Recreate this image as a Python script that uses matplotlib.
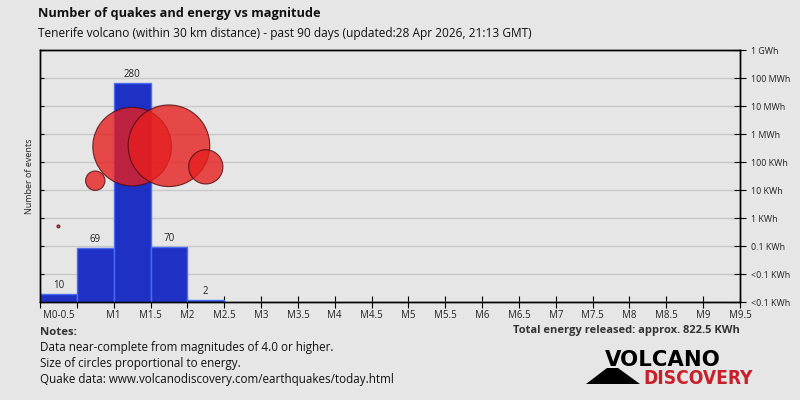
import numpy as np
import matplotlib.pyplot as plt
from matplotlib.patches import Polygon

# datos del grafico
bin_left = [0.0, 0.5, 1.0, 1.5, 2.0]
counts = [10, 69, 280, 70, 2]
energy_kwh = [0.5, 21.5, 353.0, 380.5, 67.0]
energy_ticks = [1e-3, 1e-2, 1e-1, 1, 10, 100, 1e3, 1e4, 1e5, 1e6]
energy_labels = ['<0.1 KWh', '<0.1 KWh', '0.1 KWh', '1 KWh', '10 KWh',
                 '100 KWh', '1 MWh', '10 MWh', '100 MWh', '1 GWh']
mag_ticks = np.arange(0, 9.51, 0.5)
mag_labels = ['', ''] + ['M%g' % m for m in mag_ticks[2:]]

plt.rcParams['font.family'] = ['Open Sans', 'DejaVu Sans']
bg = '#e6e6e6'

fig = plt.figure(figsize=(8, 4), dpi=100, facecolor=bg)
ax = fig.add_axes([0.05, 0.245, 0.875, 0.63])
ax.set_facecolor(bg)

# barras (numero de eventos)
ymax = max(counts) * 1.15
ax.bar(bin_left, counts, width=0.5, align='edge', color='#1f30c4',
       edgecolor='#4a6cf5', linewidth=1, zorder=2)
for x, c in zip(bin_left, counts):
    ax.text(x + 0.25, c + ymax * 0.012, str(c), ha='center', va='bottom',
            fontsize=7, color='#222222')
ax.set_xlim(0, 9.5)
ax.set_ylim(0, ymax)
ax.set_yticks(np.linspace(0, ymax, 10))
ax.set_yticklabels([])
ax.tick_params(axis='y', direction='in', length=3, color='black')
ax.grid(axis='y', color='#c8c8c8', linewidth=1, zorder=0)
ax.set_axisbelow(True)
ax.set_xticks(mag_ticks)
ax.set_xticklabels(mag_labels, fontsize=7, color='#222222')
ax.set_xticks([0.25], minor=True)
ax.set_xticklabels(['M0-0.5'], minor=True, fontsize=7, color='#222222')
ax.tick_params(axis='x', which='major', direction='inout', length=8, pad=2)
ax.tick_params(axis='x', which='minor', length=0, pad=6)
ax.set_ylabel('Number of events', fontsize=6.5, color='#222222', labelpad=1)

# circulos (energia)
ax2 = ax.twinx()
ax2.set_yscale('log')
ax2.set_ylim(1e-3, 1e6)
ax2.set_yticks(energy_ticks)
ax2.set_yticklabels(energy_labels, fontsize=6.4, color='#222222')
ax2.yaxis.set_minor_locator(plt.NullLocator())
ax2.tick_params(axis='y', direction='inout', length=8, pad=4)
centers = [b + 0.25 for b in bin_left]
r_px = 40.8 * np.sqrt(np.array(energy_kwh) / max(energy_kwh))
sizes = (2 * r_px * 0.72) ** 2
ax2.scatter(centers, energy_kwh, s=sizes, color=(0.9, 0.12, 0.12), alpha=0.8,
            edgecolors='#4a0c0c', linewidths=0.8, zorder=3)
for a in (ax, ax2):
    for s in a.spines.values():
        s.set_color('black')
        s.set_linewidth(1)

# textos
fig.text(0.047, 0.967, 'Number of quakes and energy vs magnitude', fontsize=9.15,
         fontweight='bold', va='center', color='#111111')
fig.text(0.047, 0.915, 'Tenerife volcano (within 30 km distance) - past 90 days '
         '(updated:28 Apr 2026, 21:13 GMT)', fontsize=8.6, va='center', color='#111111')
fig.text(0.05, 0.168, 'Notes:', fontsize=8.2, fontweight='bold', va='center', color='#333333')
notes = ['Data near-complete from magnitudes of 4.0 or higher.',
         'Size of circles proportional to energy.',
         'Quake data: www.volcanodiscovery.com/earthquakes/today.html']
for i, n in enumerate(notes):
    fig.text(0.05, 0.1325 - i * 0.04, n, fontsize=8.4, va='center', color='#111111')
fig.text(0.925, 0.1725, 'Total energy released: approx. 822.5 KWh', fontsize=8.0,
         fontweight='bold', va='center', ha='right', color='#333333')

# logo
fig.text(605 / 800, 0.085, 'VOLCANO', fontsize=15.3, fontweight='bold', color='black',
         va='baseline', family=['DejaVu Sans'])
fig.text(643 / 800, 0.04, 'DISCOVERY', fontsize=13.7, fontweight='bold', color='#c8202a',
         va='baseline', fontstretch='condensed', family=['DejaVu Sans'])
fig.patches.append(Polygon([[586 / 800, 0.04], [640 / 800, 0.04],
                            [618 / 800, 0.08], [607 / 800, 0.08]],
                           closed=True, transform=fig.transFigure,
                           facecolor='black', edgecolor='none'))

plt.savefig('out.png', dpi=100, facecolor=bg)
